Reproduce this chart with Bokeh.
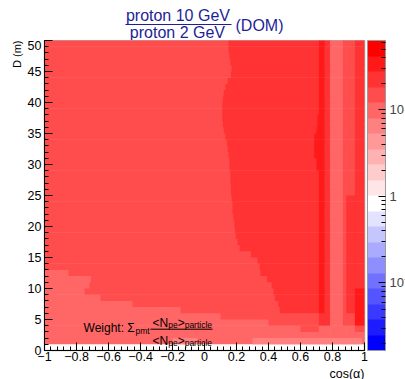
import numpy as np
from bokeh.plotting import figure
from bokeh.layouts import column
from bokeh.models import (ColumnDataSource, ColorBar, FixedTicker, Label, Arrow,
                          Range1d, LogColorMapper, Title)
from bokeh.transform import log_cmap
from bokeh.embed import file_html
from bokeh.resources import INLINE

# ---------------- data ----------------
# ratio levels (one per colour band seen in the map)
V5, V6, V7, V8, V9 = 6.5, 10.0, 15.0, 22.0, 34.0

# D rows of 1 m: lower edges (bottom -> top)
D_rows = list(range(1, 50))

# pale (~10) zone near the bottom: extends from cos=-1 to this value, rows D=1..12
light_end = [0.715, 0.715, 0.60, 0.40, 0.10, -0.15, -0.45, -0.65, -0.75, -0.72, -0.71, -0.85]

# cos(alpha) where the outer level (~15) turns into the inner level (~22), per row
mid_start = [0.715, 0.715, 0.715, 0.715, 0.715, 0.47, 0.46, 0.44, 0.43, 0.42,
             0.39, 0.35, 0.345, 0.33, 0.29, 0.22, 0.205, 0.195, 0.19, 0.185,
             0.18, 0.175, 0.175, 0.17, 0.165, 0.165, 0.16, 0.16, 0.155, 0.155,
             0.15, 0.145, 0.14, 0.13, 0.12, 0.115, 0.11, 0.11, 0.11, 0.115,
             0.12, 0.13, 0.145, 0.165, 0.17, 0.16, 0.155, 0.15, 0.15]

# left edge of the dark stripe near cos(alpha) ~ 0.72, per row
stripe_lo = [0.715, 0.715, 0.715, 0.715, 0.715, 0.715, 0.715, 0.715, 0.715, 0.715,
             0.715, 0.715, 0.715, 0.715, 0.715, 0.715, 0.715, 0.715, 0.715, 0.715,
             0.715, 0.715, 0.715, 0.715, 0.715, 0.715, 0.715, 0.715, 0.70, 0.70,
             0.685, 0.685, 0.685, 0.685, 0.70, 0.705, 0.705, 0.715, 0.715, 0.715,
             0.715, 0.715, 0.715, 0.715, 0.715, 0.715, 0.715, 0.715, 0.715]

# columns right of the dark stripe (cos edges) and their levels by depth zone
right_edges = [0.75, 0.785, 0.865, 0.885, 0.94, 1.0]
stripe_zones = [(4, V6), (6, V8), (50, V9)]          # (D upper limit, level)
right_zones = [
    [(4, V6), (50, V8)],
    [(50, V6)],
    [(4, V6), (50, V7)],
    [(4, V6), (6, V7), (25, V8), (50, V7)],
    [(3, V6), (4, V7), (10, V9), (50, V8)],
]
# faint (~6.5) patches in the lowest row
faint_row0 = [(-0.2, -0.05), (0.3, 0.98)]

# axes
x_ticks = [-1, -0.8, -0.6, -0.4, -0.2, 0, 0.2, 0.4, 0.6, 0.8, 1]
x_tick_labels = ["\u22121", "\u22120.8", "\u22120.6", "\u22120.4", "\u22120.2", "0",
                 "0.2", "0.4", "0.6", "0.8", "1"]
y_ticks = [0, 5, 10, 15, 20, 25, 30, 35, 40, 45, 50]
z_ticks = [0.1, 1, 10]
z_tick_labels = ["10\u207b\u00b9", "1", "10"]
z_low, z_high = 10 ** -1.78, 10 ** 1.80

# texts
title_num = "proton 10 GeV"
title_den = "proton 2 GeV"
title_tail = "(DOM)"
x_title = "cos(\u03b1)"
y_title = "D (m)"

# ---------------- build cells ----------------
def zone_level(zones, d):
    for top, lev in zones:
        if d < top:
            return lev
    return zones[-1][1]

cells = dict(left=[], right=[], bottom=[], top=[], val=[])
EPS_X, EPS_Y = 0.004, 0.08   # tiny overlap so neighbouring cells leave no seams

def add(l, r, b, t, v):
    if r > l + 1e-9:
        cells["left"].append(l); cells["right"].append(r + EPS_X)
        cells["bottom"].append(b); cells["top"].append(t + EPS_Y); cells["val"].append(v)

for i, d in enumerate(D_rows):
    le = light_end[i] if i < len(light_end) else -1.0
    ms = max(mid_start[i], le)
    sl = max(stripe_lo[i], ms)
    if le > -1:
        add(-1.0, le, d, d + 1, V6)
    add(max(le, -1.0), ms, d, d + 1, V7)
    add(ms, sl, d, d + 1, V8)
    add(sl, right_edges[0], d, d + 1, zone_level(stripe_zones, d))
    for j in range(len(right_edges) - 1):
        add(right_edges[j], right_edges[j + 1], d, d + 1, zone_level(right_zones[j], d))
    if i == 0:
        for a, b in faint_row0:
            add(a, b, d, d + 1, V5)

src = ColumnDataSource(cells)

# ---------------- palette: blue -> white -> red, 20 bands ----------------
base = []
for b in range(20):
    if b < 10:
        t = (9 - b) / 9.0
        c = int(round(255 * (1 - t)))
        base.append("#%02x%02x%02x" % (c, c, 255))
    else:
        k = b - 9
        c = int(round(255 * (1 - k / 10.0)))
        base.append("#%02x%02x%02x" % (255, c, c))
palette = [c for c in base for _ in range(16)]

FONT = "Liberation Sans"
TITLE_COLOR = "#1e1e96"

def strip(height):
    f = figure(width=405, height=height, x_range=Range1d(-1, 1), y_range=Range1d(0, height),
               output_backend="svg", toolbar_location=None,
               x_axis_location=None, y_axis_location=None,
               min_border_left=44, min_border_right=41, min_border_top=0, min_border_bottom=0)
    f.grid.visible = False
    f.outline_line_color = None
    f.background_fill_color = "white"
    f.border_fill_color = "white"
    return f

def label(fig, x, y, s, size, align="left", color="black"):
    fig.add_layout(Label(x=x, y=y, text=s, text_align=align, text_baseline="alphabetic",
                         text_font=FONT, text_font_size=size, text_color=color))

# ---------------- title strip (same horizontal mapping as the map) ----------------
pt = strip(40)
label(pt, -0.166, 25.5, title_num, "16px", "center", TITLE_COLOR)
label(pt, -0.169, 8.0, title_den, "16px", "center", TITLE_COLOR)
label(pt, 0.194, 15.5, title_tail, "16px", "left", TITLE_COLOR)
pt.segment(x0=[-0.494], y0=[16.0], x1=[0.169], y1=[16.0], line_color=TITLE_COLOR,
           line_width=1.2)

# ---------------- main map ----------------
p = figure(width=405, height=326, x_range=Range1d(-1, 1), y_range=Range1d(0, 50),
           output_backend="svg", toolbar_location=None,
           min_border_left=44, min_border_right=41, min_border_top=0, min_border_bottom=16)
p.grid.visible = False
p.background_fill_color = "white"
p.border_fill_color = "white"
p.outline_line_color = "#b4b4b4"
p.outline_line_width = 1.5

cmap = log_cmap("val", palette, low=z_low, high=z_high)
p.quad(left="left", right="right", bottom="bottom", top="top", source=src,
       fill_color=cmap, line_color=None)

p.xaxis.ticker = FixedTicker(ticks=x_ticks,
                             minor_ticks=[round(v, 2) for v in np.arange(-1, 1.0001, 0.04)])
p.xaxis.major_label_overrides = dict(zip(x_ticks, x_tick_labels))
p.yaxis.ticker = FixedTicker(ticks=y_ticks, minor_ticks=list(range(0, 51)))
for ax in (p.xaxis, p.yaxis):
    ax.axis_line_color = "black"
    ax.major_tick_line_color = "black"
    ax.minor_tick_line_color = "black"
    ax.major_tick_in = 8
    ax.major_tick_out = 0
    ax.minor_tick_in = 4
    ax.minor_tick_out = 0
    ax.major_label_text_font = FONT
    ax.major_label_text_font_size = "12.5px"
    ax.major_label_text_color = "black"
p.xaxis.major_label_standoff = 1
p.yaxis.major_label_standoff = 3

# y title at the top end of the axis
p.add_layout(Title(text=y_title, align="right", text_font=FONT, text_font_size="11px",
                   text_font_style="normal", text_color="black", standoff=4, offset=0),
             "left")

# colour bar
mapper = LogColorMapper(palette=palette, low=z_low, high=z_high)
cb = ColorBar(color_mapper=mapper, location=(323, 0), width=18, height=310,
              padding=0, margin=0, label_standoff=4,
              ticker=FixedTicker(ticks=z_ticks,
                                 minor_ticks=[0.02, 0.03, 0.04, 0.05, 0.06, 0.07, 0.08, 0.09,
                                              0.2, 0.3, 0.4, 0.5, 0.6, 0.7, 0.8, 0.9,
                                              2, 3, 4, 5, 6, 7, 8, 9, 20, 30, 40, 50, 60]),
              major_label_overrides=dict(zip(z_ticks, z_tick_labels)),
              major_tick_in=7, major_tick_out=0, minor_tick_in=4, minor_tick_out=0,
              major_tick_line_color="black", minor_tick_line_color="black",
              bar_line_color="#9a9a9a", bar_line_width=1,
              background_fill_alpha=0, border_line_color=None,
              major_label_text_font=FONT, major_label_text_font_size="13px")
p.add_layout(cb)

# weight annotation (inside the frame)
label(p, -0.756, 3.55, "Weight: \u03a3", "12px")
label(p, -0.431, 3.15, "pmt", "8.5px")
for ym, ys in ((4.40, 4.07), (1.57, 1.25)):
    label(p, -0.325, ym, "<N", "12px")
    label(p, -0.227, ys, "pe", "8.5px")
    label(p, -0.1675, ym, ">", "12px")
    label(p, -0.124, ys, "particle", "8.5px")
p.add_layout(Arrow(end=None, x_start=-0.3375, y_start=3.435, x_end=0.05, y_end=3.435,
                   line_color="black", line_width=1))

# ---------------- x title strip ----------------
pb = strip(13)
label(pb, 1.0, 6.0, x_title, "12.5px", "right")

layout = column(pt, p, pb, spacing=0)
open("out.html", "w").write(file_html(layout, INLINE))
